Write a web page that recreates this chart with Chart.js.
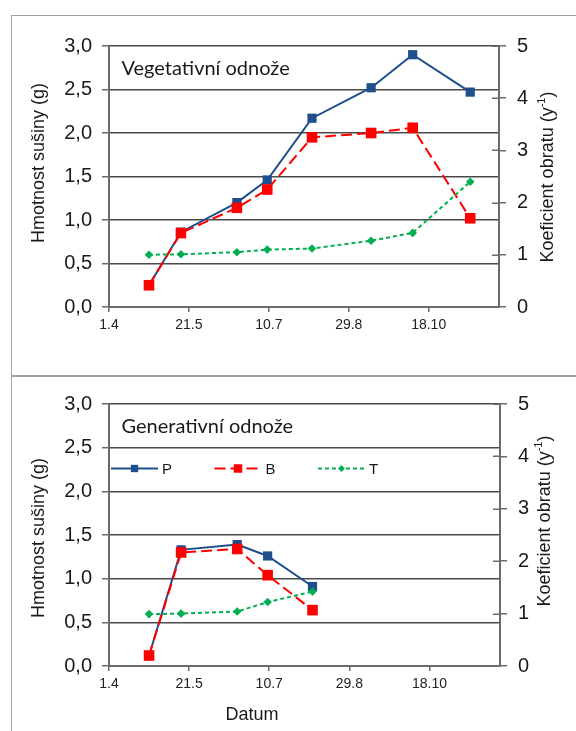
<!DOCTYPE html>
<html>
<head>
<meta charset="utf-8">
<script src="https://cdn.jsdelivr.net/npm/chart.js@4.4.1/dist/chart.umd.min.js"></script>
<style>
  html, body { margin: 0; padding: 0; background: #fff; }
  body { width: 576px; height: 731px; position: relative; overflow: hidden; }
  .panel { position: absolute; left: 11px; width: 700px; border: 1px solid #a3a3a3; border-right: none; }
  .wrap { position: absolute; left: 0; width: 576px; }
  canvas { display: block; }
</style>
</head>
<body>
<div class="panel" style="top:15px;height:360px"></div>
<div class="panel" style="top:375px;height:400px"></div>
<div class="wrap" style="top:0;height:375px"><canvas id="veg" width="576" height="375"></canvas></div>
<div class="wrap" style="top:375px;height:356px"><canvas id="gen" width="576" height="356"></canvas></div>

<script>
// dates are d.m, x axis runs from 1.4 to 1.12
const axisStart = '1.4';
const axisEnd = '1.12';
const xTickLabels = ['1.4', '21.5', '10.7', '29.8', '18.10'];
const leftTicks = [0, 0.5, 1, 1.5, 2, 2.5, 3];
const rightTicks = [0, 1, 2, 3, 4, 5];
const seriesNames = ['P', 'B', 'T'];

// Vegetativní odnože
const vegDates = ['26.4', '16.5', '20.6', '9.7', '6.8', '12.9', '8.10', '13.11'];
const vegP = [0.25, 0.86, 1.20, 1.46, 2.17, 2.52, 2.90, 2.47];
const vegB = [0.25, 0.85, 1.14, 1.35, 1.95, 2.00, 2.06, 1.02];
const vegT = [1.00, 1.01, 1.05, 1.10, 1.12, 1.27, 1.42, 2.40];

// Generativní odnože
const genDates = ['26.4', '16.5', '20.6', '9.7', '6.8'];
const genP = [0.12, 1.33, 1.39, 1.26, 0.91];
const genB = [0.12, 1.30, 1.34, 1.04, 0.64];
const genT = [0.99, 1.00, 1.04, 1.22, 1.42];

const BLUE = '#1f4e8c', RED = '#ff0000', GREEN = '#00b050';
const GRID = '#4a4a4a', AXIS = '#6a6a6a', TEXT = '#1a1a1a';
const SANS = "'Liberation Sans', Arial, sans-serif";

function dayOf(s) {
    const [d, m] = s.split('.').map(Number);
    const [d0, m0] = axisStart.split('.').map(Number);
    return Math.round((Date.UTC(2011, m - 1, d) - Date.UTC(2011, m0 - 1, d0)) / 86400000);
}

function points(dates, vals) {
    return dates.map((d, i) => ({ x: dayOf(d), y: vals[i] }));
}

function drawMarker(ctx, style, x, y, r, color) {
    ctx.fillStyle = color;
    ctx.beginPath();
    if (style === 'rect') {
        const h = r * Math.SQRT1_2;
        ctx.rect(x - h, y - h, 2 * h, 2 * h);
    } else {
        ctx.moveTo(x, y - r); ctx.lineTo(x + r, y); ctx.lineTo(x, y + r); ctx.lineTo(x - r, y);
        ctx.closePath();
    }
    ctx.fill();
}

const panelDecor = {
    id: 'panelDecor',
    afterDraw(chart, args, o) {
        const { ctx, chartArea: a, scales } = chart;
        ctx.save();

        // inner half of the right axis ticks
        const r = scales.y1;
        ctx.strokeStyle = AXIS;
        ctx.lineWidth = 1.5;
        r.ticks.forEach(t => {
            const y = Math.round(r.getPixelForValue(t.value)) + 0.25;
            ctx.beginPath(); ctx.moveTo(r.left - 7, y); ctx.lineTo(r.left, y); ctx.stroke();
        });

        ctx.fillStyle = TEXT;
        ctx.textAlign = 'left';
        ctx.textBaseline = 'alphabetic';
        ctx.font = "20px Lato, 'Open Sans', sans-serif";
        ctx.fillText(o.label, a.left + 12.5, a.top + 28.5);

        // left axis title
        ctx.font = '18px ' + SANS;
        ctx.save();
        ctx.translate(o.leftTitle[0], o.leftTitle[1]);
        ctx.rotate(-Math.PI / 2);
        ctx.textAlign = 'center';
        ctx.textBaseline = 'middle';
        ctx.fillText('Hmotnost sušiny (g)', 0, 0);
        ctx.restore();

        // right axis title with superscript
        ctx.save();
        ctx.translate(o.rightTitle[0], o.rightTitle[1]);
        ctx.rotate(-Math.PI / 2);
        ctx.textBaseline = 'middle';
        ctx.textAlign = 'left';
        const main = 'Koeficient obratu (y', sup = '-1', tail = ')';
        ctx.font = '18px ' + SANS;
        const w1 = ctx.measureText(main).width, w3 = ctx.measureText(tail).width;
        ctx.font = '11px ' + SANS;
        const w2 = ctx.measureText(sup).width;
        let x = -(w1 + w2 + w3) / 2;
        ctx.font = '18px ' + SANS;
        ctx.fillText(main, x, 0);
        ctx.font = '11px ' + SANS;
        ctx.fillText(sup, x + w1, -6);
        ctx.font = '18px ' + SANS;
        ctx.fillText(tail, x + w1 + w2, 0);
        ctx.restore();

        if (o.xTitle) {
            ctx.font = '18px ' + SANS;
            ctx.textAlign = 'center';
            ctx.textBaseline = 'middle';
            ctx.fillText(o.xTitle, o.xTitlePos[0], o.xTitlePos[1]);
        }

        if (o.legend) {
            const ly = a.top + 64.5;
            chart.data.datasets.forEach((ds, i) => {
                const x0 = a.left + 2 + i * 103.5;
                ctx.save();
                ctx.strokeStyle = ds.borderColor;
                ctx.lineWidth = ds.borderWidth;
                ctx.setLineDash(ds.borderDash || []);
                ctx.beginPath(); ctx.moveTo(x0, ly); ctx.lineTo(x0 + 47, ly); ctx.stroke();
                ctx.restore();
                drawMarker(ctx, ds.pointStyle, x0 + 23.5, ly, ds.pointRadius * 0.8, ds.borderColor);
                ctx.fillStyle = TEXT;
                ctx.font = '15px ' + SANS;
                ctx.textAlign = 'left';
                ctx.textBaseline = 'middle';
                ctx.fillText(ds.label, x0 + 51, ly + 1);
            });
        }
        ctx.restore();
    }
};

function makeChart(id, dates, P, B, T, o) {
    const series = [P, B, T];
    const styles = [
        { color: BLUE, dash: [], pointStyle: 'rect', radius: 6.5, order: 2 },
        { color: RED, dash: [11, 5], pointStyle: 'rect', radius: 7.5, order: 1 },
        { color: GREEN, dash: [4, 3], pointStyle: 'rectRot', radius: 4.3, order: 0 }
    ];
    const datasets = seriesNames.map((name, i) => ({
        label: name,
        data: points(dates, series[i]),
        yAxisID: name === 'T' ? 'y1' : 'y',
        borderColor: styles[i].color,
        backgroundColor: styles[i].color,
        borderWidth: 2,
        borderDash: styles[i].dash,
        pointStyle: styles[i].pointStyle,
        pointRadius: styles[i].radius,
        pointBorderWidth: 0,
        tension: 0,
        order: styles[i].order
    }));

    return new Chart(document.getElementById(id), {
        type: 'line',
        data: { datasets },
        plugins: [panelDecor],
        options: {
            responsive: false,
            animation: false,
            layout: { padding: { top: o.top, left: 0, right: 0, bottom: 0 } },
            plugins: {
                legend: { display: false },
                tooltip: { enabled: false },
                panelDecor: o
            },
            scales: {
                x: {
                    type: 'linear',
                    min: 0,
                    max: dayOf(axisEnd),
                    afterBuildTicks: s => { s.ticks = xTickLabels.map(l => ({ value: dayOf(l) })); },
                    afterFit: s => { s.height = o.xHeight; },
                    ticks: {
                        callback: (v, i) => xTickLabels[i],
                        autoSkip: false, maxRotation: 0, padding: 5,
                        color: '#222', font: { size: 14, family: SANS }
                    },
                    grid: { drawOnChartArea: false, tickLength: 5, color: AXIS, lineWidth: 1.5 },
                    border: { display: true, color: AXIS, width: 2 }
                },
                y: {
                    position: 'left',
                    min: leftTicks[0],
                    max: leftTicks[leftTicks.length - 1],
                    afterBuildTicks: s => { s.ticks = leftTicks.map(v => ({ value: v })); },
                    afterFit: s => { s.width = 109; },
                    ticks: {
                        callback: v => v.toFixed(1).replace('.', ','),
                        padding: 10, color: TEXT, font: { size: 20, family: SANS }
                    },
                    grid: { color: GRID, lineWidth: 1.5, tickLength: 7, tickColor: AXIS },
                    border: { display: true, color: AXIS, width: 2 }
                },
                y1: {
                    position: 'right',
                    min: rightTicks[0],
                    max: rightTicks[rightTicks.length - 1],
                    afterBuildTicks: s => { s.ticks = rightTicks.map(v => ({ value: v })); },
                    afterFit: s => { s.width = 576 - o.right; },
                    ticks: {
                        padding: 11, color: TEXT, font: { size: 20, family: SANS }
                    },
                    grid: { drawOnChartArea: false, tickLength: 7, color: AXIS, lineWidth: 1.5 },
                    border: { display: true, color: AXIS, width: 2 }
                }
            }
        }
    });
}

makeChart('veg', vegDates, vegP, vegB, vegT, {
    label: 'Vegetativní odnože', top: 46, xHeight: 68, right: 499,
    leftTitle: [39, 163], rightTitle: [548, 177]
});
makeChart('gen', genDates, genP, genB, genT, {
    label: 'Generativní odnože', top: 29, xHeight: 65, right: 500,
    leftTitle: [39, 163], rightTitle: [545, 146],
    legend: true, xTitle: 'Datum', xTitlePos: [252, 340]
});
</script>
</body>
</html>
